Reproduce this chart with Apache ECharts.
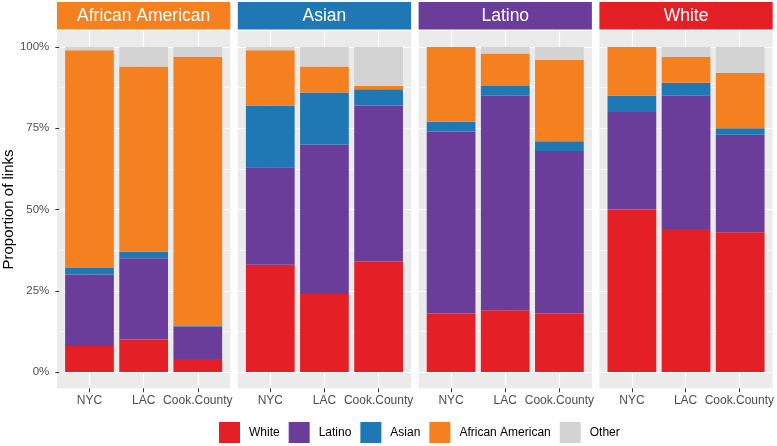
<!DOCTYPE html>
<html><head><meta charset="utf-8">
<script src="https://cdn.jsdelivr.net/npm/echarts@6/dist/echarts.min.js"></script>
<style>html,body{margin:0;padding:0;background:#fff}#c{width:777px;height:446px}</style>
</head><body><div id="c"></div>
<script>
// ---- data ----
const categories = ['NYC', 'LAC', 'Cook.County'];
const panels = ['African American', 'Asian', 'Latino', 'White'];
const groups = ['White', 'Latino', 'Asian', 'African American', 'Other'];
const yTicks = [0, 25, 50, 75, 100];
// values per panel (African American, Asian, Latino, White), each [NYC, LAC, Cook.County], in %
const white  = [[8, 10, 4],   [33, 24, 34], [18, 19, 18], [50, 44, 43]];
const latino = [[22, 25, 10], [30, 46, 48], [56, 66, 50], [30, 41, 30]];
const asian  = [[2, 2, 0.3],  [19, 16, 5],  [3, 3, 3],    [5, 4, 2]];
const afam   = [[67, 57, 82.7],[17, 8, 1],  [23, 10, 25], [15, 8, 17]];
const other  = [[1, 6, 3],    [1, 6, 12],   [0, 2, 4],    [0, 3, 8]];

const groupValues = [white, latino, asian, afam, other];
const groupColors = ['#E41F26', '#6A3D9A', '#1F78B4', '#F58020', '#D3D3D3'];
const panelColors = ['#F58020', '#1F78B4', '#6A3D9A', '#E41F26'];

const FONT = '"Liberation Sans", Arial, sans-serif';
const panelLeft0 = 57, panelStep = 180.8, panelW = 173.3;
const panelTop = 30.75, panelH = 357.5;
const dataTop = 47, dataH = 325;
const unit = panelW / 3.2;

const grid = [], xAxis = [], yAxis = [], series = [], graphic = [];
let gi = 0;
panels.forEach((pname, p) => {
  const L = panelLeft0 + p * panelStep;
  // background
  grid.push({left: L, top: panelTop, width: panelW, height: panelH, show: true,
             backgroundColor: '#EBEBEB', borderWidth: 0, containLabel: false});
  xAxis.push({gridIndex: gi, type: 'value', show: false});
  yAxis.push({gridIndex: gi, type: 'value', show: false});
  gi++;
  // horizontal gridlines + y axis
  grid.push({left: L, top: dataTop, width: panelW, height: dataH});
  xAxis.push({gridIndex: gi, type: 'value', show: false});
  yAxis.push({gridIndex: gi, type: 'value', min: yTicks[0], max: yTicks[yTicks.length - 1], interval: 25,
    axisLine: {show: false},
    axisTick: {show: p === 0, length: 4, lineStyle: {color: '#333333', width: 1}},
    axisLabel: {show: p === 0, formatter: v => v + '%', color: '#4D4D4D', fontSize: 11.5, fontFamily: FONT, margin: 10},
    splitLine: {show: true, lineStyle: {color: '#FFFFFF', width: 1.2}},
    minorTick: {show: false, splitNumber: 2},
    minorSplitLine: {show: true, lineStyle: {color: '#FFFFFF', width: 0.6}},
    name: p === 0 ? 'Proportion of links' : '',
    nameLocation: 'middle', nameGap: 38, nameRotate: 90,
    nameTextStyle: {color: '#000000', fontSize: 15, fontFamily: FONT}
  });
  gi++;
  // vertical gridlines + x labels
  grid.push({left: L + 0.6 * unit, top: panelTop, width: 2 * unit, height: panelH});
  xAxis.push({gridIndex: gi, type: 'category', data: categories, boundaryGap: false,
    axisLine: {show: false},
    axisTick: {show: true, interval: 0, length: 4, lineStyle: {color: '#333333', width: 1}},
    axisLabel: {interval: 0, color: '#4D4D4D', fontSize: 12, fontFamily: FONT, margin: 6},
    splitLine: {show: true, interval: 0, lineStyle: {color: '#FFFFFF', width: 1.2}}
  });
  yAxis.push({gridIndex: gi, type: 'value', show: false});
  gi++;
  // data
  grid.push({left: L + 0.1 * unit, top: dataTop, width: 3 * unit, height: dataH});
  xAxis.push({gridIndex: gi, type: 'category', data: categories, show: false});
  yAxis.push({gridIndex: gi, type: 'value', min: 0, max: 100, show: false});
  groups.forEach((g, k) => {
    series.push({type: 'bar', name: g, xAxisIndex: gi, yAxisIndex: gi, stack: 'p' + p,
      barWidth: '90%', data: groupValues[k][p],
      itemStyle: {color: groupColors[k]}, emphasis: {disabled: true}, animation: false});
  });
  gi++;
  // strip
  graphic.push({type: 'rect', left: L, top: 2, shape: {width: panelW, height: 27.5},
    style: {fill: panelColors[p]}, z: 10});
  graphic.push({type: 'text', x: L + panelW / 2, y: 16, z: 11,
    style: {text: pname, fill: '#FFFFFF', font: '17.5px ' + FONT, textAlign: 'center', textVerticalAlign: 'middle'}});
});

const chart = echarts.init(document.getElementById('c'), null, {renderer: 'canvas'});
chart.setOption({
  animation: false,
  backgroundColor: '#FFFFFF',
  grid, xAxis, yAxis, series, graphic,
  legend: {data: groups, left: 219, top: 422, padding: 0, itemWidth: 21, itemHeight: 21, itemGap: 9,
    icon: 'rect', selectedMode: false,
    textStyle: {color: '#000000', fontSize: 12, fontFamily: FONT, padding: [0, 0, 0, 4]}}
});
</script></body></html>
